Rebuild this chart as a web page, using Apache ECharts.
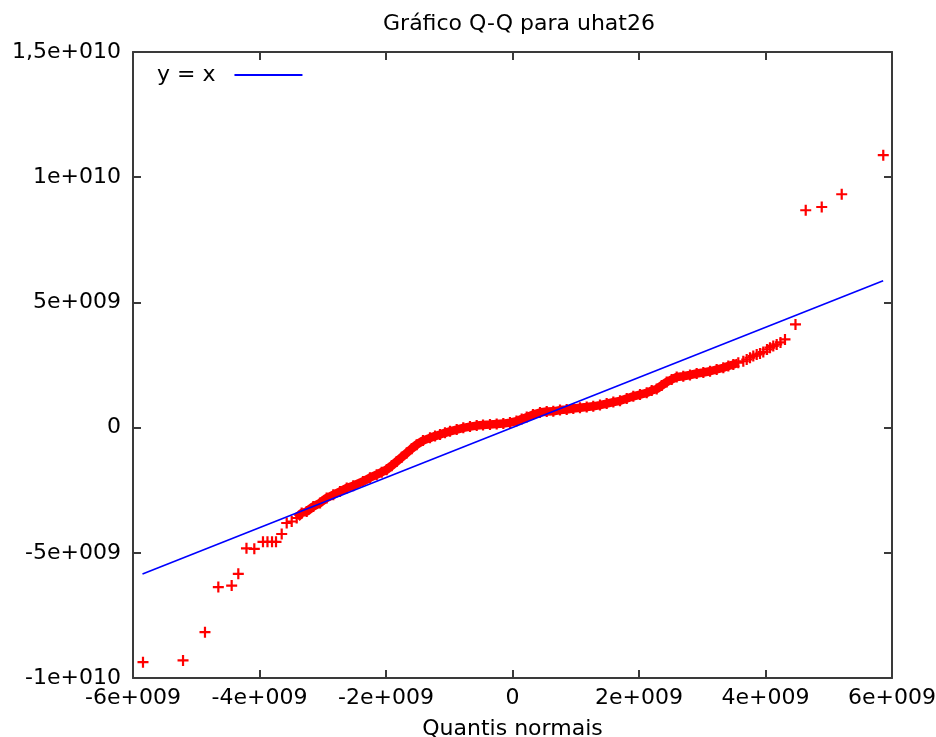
<!DOCTYPE html>
<html>
<head>
<meta charset="utf-8">
<script src="https://cdn.jsdelivr.net/npm/echarts@6/dist/echarts.min.js"></script>
<style>
html,body{margin:0;padding:0;background:#fff;}
#chart{width:936px;height:737px;}
</style>
</head>
<body>
<div id="chart"></div>
<script>
// ---- data (values in units of 1e9) ----
const UNIT = 1e9;
const titleText = 'Gráfico Q-Q para uhat26';
const xAxisName = 'Quantis normais';
const refLineName = 'y = x';

const xTicks = [-6e9, -4e9, -2e9, 0, 2e9, 4e9, 6e9];
const xTickLabels = ['-6e+009', '-4e+009', '-2e+009', '0', '2e+009', '4e+009', '6e+009'];
const yTicks = [-1e10, -5e9, 0, 5e9, 1e10, 1.5e10];
const yTickLabels = ['-1e+010', '-5e+009', '0', '5e+009', '1e+010', '1,5e+010'];

// normal quantiles (x) and sorted residuals (y)
const qqX = [-5.842, -5.209, -4.862, -4.651, -4.440, -4.335, -4.206, -4.082, -3.945, -3.874,
  -3.802, -3.739, -3.649, -3.570, -3.491, -3.412, -3.333, -3.254, -3.149, -3.043,
  -2.938, -2.833, -2.727, -2.621, -2.517, -2.364, -2.253, -2.147, -2.068, -1.989,
  -1.910, -1.831, -1.752, -1.673, -1.594, -1.515, -1.415, -1.304, -1.225, -1.146,
  -1.067, -0.988, -0.882, -0.778, -0.672, -0.566, -0.466, -0.356, -0.250, -0.145,
  -0.040, 0.063, 0.145, 0.225, 0.324, 0.435, 0.541, 0.645, 0.751, 0.857,
  0.961, 1.067, 1.173, 1.277, 1.383, 1.489, 1.594, 1.700, 1.806, 1.910,
  2.016, 2.122, 2.201, 2.280, 2.359, 2.438, 2.517, 2.596, 2.700, 2.806,
  2.912, 3.017, 3.123, 3.228, 3.333, 3.412, 3.491, 3.570, 3.649, 3.703,
  3.755, 3.807, 3.861, 3.913, 3.965, 4.024, 4.071, 4.123, 4.177, 4.237,
  4.308, 4.474, 4.636, 4.889, 5.205, 5.862];
const qqY = [-9.37, -9.30, -8.17, -6.37, -6.31, -5.84, -4.82, -4.84, -4.56, -4.56,
  -4.56, -4.56, -4.25, -3.81, -3.75, -3.61, -3.41, -3.35, -3.15, -3.01,
  -2.81, -2.68, -2.55, -2.41, -2.32, -2.15, -2.00, -1.88, -1.78, -1.68,
  -1.52, -1.35, -1.18, -1.01, -0.84, -0.68, -0.52, -0.41, -0.34, -0.28,
  -0.21, -0.15, -0.08, -0.01, 0.04, 0.08, 0.10, 0.12, 0.14, 0.16,
  0.20, 0.26, 0.34, 0.42, 0.52, 0.60, 0.64, 0.65, 0.70, 0.72,
  0.76, 0.79, 0.82, 0.85, 0.90, 0.96, 1.02, 1.07, 1.16, 1.25,
  1.32, 1.39, 1.48, 1.54, 1.68, 1.82, 1.92, 2.02, 2.05, 2.10,
  2.16, 2.20, 2.25, 2.32, 2.39, 2.46, 2.52, 2.59, 2.65, 2.72,
  2.79, 2.86, 2.92, 2.96, 3.02, 3.12, 3.19, 3.26, 3.32, 3.40,
  3.52, 4.12, 8.68, 8.81, 9.32, 10.88];

// y = x reference line end points
const refLineX = [-5.85, 5.86];

// range of the overplotted (solid) part of the cloud
const denseFrom = -3.45, denseTo = 3.6;

// ---- build ----
const pts = qqX.map((x, i) => [x * UNIT, qqY[i] * UNIT]);
const densePts = pts.filter(p => p[0] >= denseFrom * UNIT && p[0] <= denseTo * UNIT);
const refLine = refLineX.map(v => [v * UNIT, v * UNIT]);

const FONT = 'DejaVu Sans';
const FS = 22;
const frameColor = '#3a3a3a';

function lookup(vals, labels) {
  return function (v) {
    for (let i = 0; i < vals.length; i++) {
      if (Math.abs(vals[i] - v) < 1) return labels[i];
    }
    return '';
  };
}

const plusPath = 'path://M-0.1,-0.5L0.1,-0.5L0.1,-0.1L0.5,-0.1L0.5,0.1L0.1,0.1L0.1,0.5L-0.1,0.5L-0.1,0.1L-0.5,0.1L-0.5,-0.1L-0.1,-0.1Z';

const baseAxis = {
  type: 'value',
  axisLine: { show: true, onZero: false, lineStyle: { color: frameColor, width: 2 } },
  axisTick: { show: true, inside: true, length: 8, lineStyle: { color: frameColor, width: 2 } },
  splitLine: { show: false }
};

const chart = echarts.init(document.getElementById('chart'), null, { renderer: 'canvas' });
chart.setOption({
  animation: false,
  backgroundColor: '#ffffff',
  title: {
    text: titleText,
    left: 514,
    top: 8,
    textAlign: 'center',
    textStyle: { fontFamily: FONT, fontSize: FS, fontWeight: 'normal', color: '#000' }
  },
  legend: {
    data: [{ name: refLineName, icon: 'rect' }],
    left: 152,
    top: 59,
    align: 'right',
    itemWidth: 68,
    itemHeight: 2,
    itemGap: 0,
    textStyle: { fontFamily: FONT, fontSize: FS, color: '#000', padding: [0, 14, 0, 0] }
  },
  grid: { left: 133, right: 44, top: 52, bottom: 59, containLabel: false, outerBoundsMode: 'none' },
  xAxis: [
    Object.assign({}, baseAxis, {
      position: 'bottom',
      min: -6e9, max: 6e9, interval: 2e9,
      name: xAxisName,
      nameLocation: 'middle',
      nameGap: 40,
      nameTextStyle: { fontFamily: FONT, fontSize: FS, color: '#000' },
      axisLabel: { margin: 9, fontFamily: FONT, fontSize: FS, color: '#000',
        formatter: lookup(xTicks, xTickLabels), showMinLabel: true, showMaxLabel: true,
        hideOverlap: false }
    }),
    Object.assign({}, baseAxis, {
      position: 'top',
      min: -6e9, max: 6e9, interval: 2e9,
      axisLabel: { show: false }
    })
  ],
  yAxis: [
    Object.assign({}, baseAxis, {
      position: 'left',
      min: -1e10, max: 1.5e10, interval: 5e9,
      axisLabel: { margin: 12, fontFamily: FONT, fontSize: FS, color: '#000',
        formatter: lookup(yTicks, yTickLabels) }
    }),
    Object.assign({}, baseAxis, {
      position: 'right',
      min: -1e10, max: 1.5e10, interval: 5e9,
      axisLabel: { show: false }
    })
  ],
  series: [
    {
      name: 'band',
      type: 'line',
      data: densePts,
      symbol: 'none',
      silent: true,
      z: 2,
      lineStyle: { color: '#ff0000', width: 8.5 },
      itemStyle: { color: '#ff0000' }
    },
    {
      name: 'uhat26',
      type: 'scatter',
      data: pts,
      symbol: plusPath,
      symbolSize: 11,
      z: 3,
      itemStyle: { color: '#ff0000', opacity: 1 }
    },
    {
      name: refLineName,
      type: 'line',
      data: refLine,
      symbol: 'none',
      z: 4,
      lineStyle: { color: '#0000ff', width: 1.6 },
      itemStyle: { color: '#0000ff' }
    }
  ]
});
</script>
</body>
</html>
